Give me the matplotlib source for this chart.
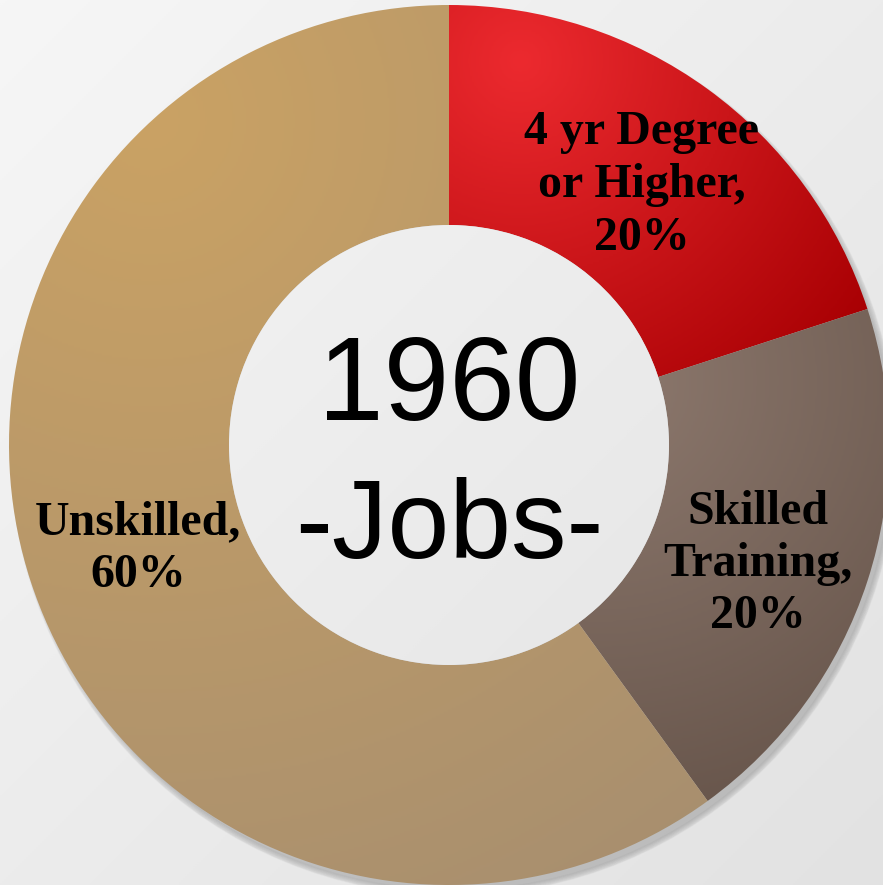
import numpy as np
import matplotlib.pyplot as plt
from matplotlib.colors import LinearSegmentedColormap

# data
labels = ["4 yr Degree\nor Higher,\n20%", "Skilled\nTraining,\n20%", "Unskilled,\n60%"]
shares = [20, 20, 60]
# (light, dark) colour per slice for the gradient fill
grads = [("#ec2a2f", "#a80003"), ("#8d796e", "#66544a"), ("#caa264", "#a88f6f")]
# where each gradient is lightest (pixels) and how far it runs
light_spot = [(520, 60), (600, 380), (150, 120)]
spread = [430, 470, 900]
label_pos = [(642, 185), (758, 564), (138, 549)]
title_year = "1960"
title_word = "-Jobs-"

W, H = 883, 885
fig = plt.figure(figsize=(W / 100, H / 100), dpi=100)
ax = fig.add_axes([0, 0, 1, 1])

# paper-like background gradient
py, px = np.mgrid[0:H:2, 0:W:2]
bg = (px / W + py / H) / 2
bg_cmap = LinearSegmentedColormap.from_list("bg", ["#f6f6f6", "#e2e2e2"])
ax.imshow(bg, cmap=bg_cmap, extent=[0, W, 0, H], origin="upper", zorder=0, aspect="auto")

cx, cy = 449, H - 445
R, width = 440, 220

# soft drop shadow towards the bottom right
for i in range(6):
    sh = plt.Circle((cx + 5, cy - 7), R - 2 + i, color="#666666", alpha=0.06, zorder=1)
    ax.add_patch(sh)

wedges, _ = ax.pie(shares, radius=R, center=(cx, cy), startangle=90,
                   counterclock=False, wedgeprops=dict(width=width, linewidth=0),
                   frame=True)

# gradient fills clipped to each wedge
for w, (c1, c2), (sx, sy), sp in zip(wedges, grads, light_spot, spread):
    w.set_facecolor("none")
    w.set_zorder(2)
    cm = LinearSegmentedColormap.from_list("g", [c1, c2])
    g = np.clip(np.hypot(px - sx, py - sy) / sp, 0, 1)
    im = ax.imshow(g, cmap=cm, vmin=0, vmax=1, extent=[0, W, 0, H],
                   origin="upper", zorder=2, aspect="auto")
    im.set_clip_path(w)

# hole shows the paper again (cover the shadow)
hole_img = ax.imshow(bg, cmap=bg_cmap, extent=[0, W, 0, H], origin="upper", zorder=3, aspect="auto")
hole = plt.Circle((cx, cy), R - width, facecolor="none", edgecolor="none")
ax.add_patch(hole)
hole_img.set_clip_path(hole)

for lab, (x, y) in zip(labels, label_pos):
    ax.text(x, H - y, lab, ha="center", va="center", fontsize=34.5, fontweight="bold",
            family="Liberation Serif", color="black", linespacing=1.25, zorder=5)

ax.text(cx, H - 420, title_year, ha="center", va="baseline", fontsize=85,
        family="Liberation Sans", color="black", zorder=5)
ax.text(cx, H - 558, title_word, ha="center", va="baseline", fontsize=80,
        family="Liberation Sans", color="black", zorder=5)

ax.set_xlim(0, W)
ax.set_ylim(0, H)
ax.set_aspect("equal")
ax.axis("off")

fig.savefig("out.png", dpi=100)
